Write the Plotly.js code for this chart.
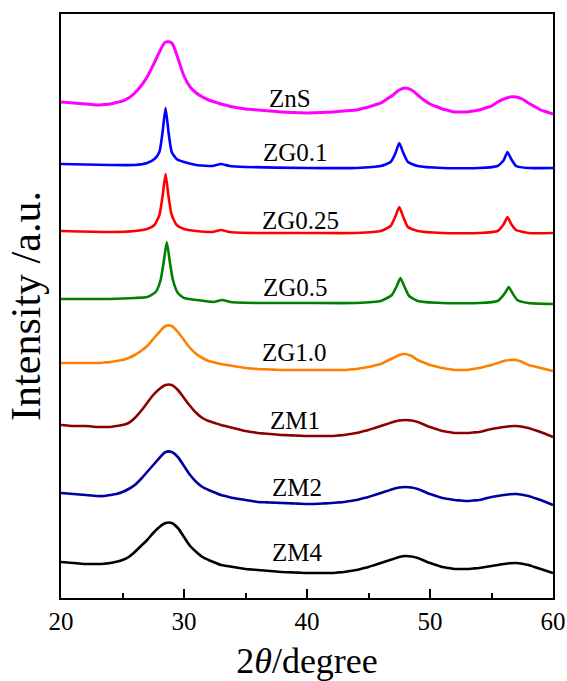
<!DOCTYPE html>
<html>
<head>
<meta charset="utf-8">
<script src="https://cdn.plot.ly/plotly-3.0.1.min.js"></script>
<style>html,body{margin:0;padding:0;background:#fff;}#chart{width:567px;height:681px;}</style>
</head>
<body>
<div id="chart"></div>
<script>
// Stacked XRD patterns (intensity in arbitrary units, offset stacks)
const xTickVals = [20, 30, 40, 50, 60];

// common 2-theta grid for the broad patterns
const gridX = [
  20,20.5,21,21.5,22,22.5,23,23.5,24,24.5,
  25,25.5,26,26.5,27,27.5,28,28.5,29,29.5,
  30,30.5,31,31.5,32,32.5,33,33.5,34,34.5,
  35,35.5,36,36.5,37,37.5,38,38.5,39,39.5,
  40,40.5,41,41.5,42,42.5,43,43.5,44,44.5,
  45,45.5,46,46.5,47,47.5,48,48.5,49,49.5,
  50,50.5,51,51.5,52,52.5,53,53.5,54,54.5,
  55,55.5,56,56.5,57,57.5,58,58.5,59,59.5,
  60];

const znsY = [
  496,495.5,495,494.5,494,493.5,493,493.5,494,495.5,
  497,500,505,512,521,533,546,556,555,540,
  522,511,505,501,498,496,494,492.5,491,490,
  489,488.5,488,487.5,487,486.5,486,485.7,485.5,485.2,
  485,485.2,485.5,485.7,486,486.5,487,487.5,488,489.5,
  491,493,495,499,503,508,510,508,503,498,
  494,491.5,489,487.5,486,486,486,487,488,490,
  492,496,499,501,501,499,495,491.5,488,486,
  484];

const zg01X = [20,24,26,27,27.6,28.0,28.25,28.5,28.75,29.0,29.4,30,31,32.3,33,33.7,35,40,44,46,46.8,47.2,47.5,47.8,48.2,49,51,54,55.5,56,56.3,56.6,57,58,60];
const zg01Y = [434,433,433,435,439,446,465,490,465,446,439,436,433,432,434,432,431,430,430,432,436,445,455,446,436,432,430,430,432,438,446,439,432,430,430];

const zg025X = [20,24,26,27,27.6,28.0,28.25,28.5,28.75,29.0,29.4,30,31,32.3,33,33.7,36,40,44,46,46.8,47.2,47.5,47.8,48.2,49,51,54,55.5,56,56.3,56.6,57,58,60];
const zg025Y = [367,366,367,369,373,383,401,424,401,383,373,369,367,366,368,366,365,365,365,367,372,382,391,382,371,367,365,365,367,374,381,374,368,365,365];

const zg05X = [20,24,26,27,27.7,28.1,28.35,28.6,28.85,29.1,29.5,30,31,32.4,33.1,33.8,36,40,44,46,46.9,47.3,47.6,47.9,48.3,49,51,54,55.5,56.1,56.4,56.7,57.1,58,60];
const zg05Y = [299,299,300,301,306,318,336,356,336,318,305,300,298,296,298,296,295,295,295,297,303,312,320,312,302,297,295,295,297,305,311,305,298,295,294];

const zg10Y = [
  235,235,235,235,235,235,235,235.5,236,237,
  238,240,243,247,252,259,266,272,272,266,
  258,250,244,240,237,235.5,234,233,232,231,
  230,229.5,229,228.7,228.5,228.2,228,228,228,228,
  228,228,228,228,228,228,228,228.5,229,230,
  231,232.5,234,237,240,243,244,242,238,235.5,
  233,231.5,230,229,228,228,228,229,230,231.5,
  233,235,237,238,238,236,233,231.5,230,228.5,
  227];

const zm1Y = [
  173,172.5,172,172,172,171.5,171,171,171,172,
  173,175,180,187,195,203,209,213,213,208,
  200,192,185,180,177,175,173,171.5,170,168.5,
  167,166,165,164.5,164,163.5,163,162.8,162.5,162.2,
  162,162,162,162,162,162.5,163,164,165,166.5,
  168,170,172,174,176,177.5,178,177.5,176,173.5,
  171,169,167,166,165,165,165,165.5,166,167.5,
  169,170,171,171.8,172,171.2,170,168,166,163.5,
  161];

const zm2Y = [
  105,104.5,104,103.5,103,102.5,102,102,103,104,
  106,109,113,119,126,133,140,146,146,141,
  132,123,116,111,108,105.5,103,101.5,100,99,
  98,97,96,95.7,95.5,95.2,95,94.7,94.5,94.2,
  94,94,94.3,94.6,95,95.5,96,97,98,99.5,
  101,103,105,107,109,110.5,111,110.5,109,106.5,
  104,102,100,99,98,97.5,97,97.5,98,99.5,
  101,102,103,103.8,104,103.2,102,100,98,95.5,
  93];

const zm4Y = [
  36,35.5,35,34.5,34,34,34,34.3,35,36.3,
  38,41,46,52,58,65,71,75,75,70,
  61,52,46,41,38,35.5,33,32,31,30,
  29,28.5,28,27.5,27,26.5,26,25.7,25.5,25.2,
  25,25,25,25,25,25.5,26,27,28,29.5,
  31,33,35,37,39,41,42,41.5,40,37.5,
  35,33,31,30,29,29,29,29.5,30,31,
  32,33,34,34.8,35,34.2,33,31,29,27,
  25];

const names = ["ZnS","ZG0.1","ZG0.25","ZG0.5","ZG1.0","ZM1","ZM2","ZM4"];
const colors = ["#FF00FF","#0000FF","#FF0000","#008000","#FF8000","#8B0000","#0000A0","#000000"];
const seriesX = [gridX, zg01X, zg025X, zg05X, gridX, gridX, gridX, gridX];
const seriesY = [znsY, zg01Y, zg025Y, zg05Y, zg10Y, zm1Y, zm2Y, zm4Y];
const sharp = [false, true, true, true, false, false, false, false];
const labelX = [38.6, 39.1, 39.5, 39.1, 39.0, 39.0, 39.2, 39.2];
const labelY = [500, 446, 378, 311, 246, 178, 111, 46];

const SERIF = 'Liberation Serif';

const traces = names.map((n, i) => ({
  x: seriesX[i], y: seriesY[i], type: 'scatter', mode: 'lines', name: n,
  line: {color: colors[i], width: i === 0 ? 3 : 2.6, shape: 'spline', smoothing: sharp[i] ? 0.5 : 0.8},
  hoverinfo: 'skip'
}));

const annotations = names.map((n, i) => ({
  x: labelX[i], y: labelY[i], xref: 'x', yref: 'y', text: n, showarrow: false,
  xanchor: 'center', yanchor: 'middle',
  font: {family: SERIF, size: 25, color: '#000'}
}));

const layout = {
  width: 567, height: 681,
  margin: {l: 61, r: 14, t: 14, b: 83},
  paper_bgcolor: '#fff', plot_bgcolor: '#fff',
  showlegend: false,
  font: {family: SERIF, color: '#000'},
  xaxis: {
    range: [20, 60], tickvals: xTickVals, ticktext: xTickVals.map(String),
    ticks: 'inside', ticklen: 9, tickwidth: 2, tickcolor: '#000',
    minor: {dtick: 5, tick0: 20, ticks: 'inside', ticklen: 5, tickwidth: 2, tickcolor: '#000'},
    showline: true, linewidth: 2, linecolor: '#000', mirror: true,
    showgrid: false, zeroline: false,
    tickfont: {size: 25, family: SERIF, color: '#000'},
    title: {text: '2<i>θ</i>/degree', font: {size: 36, family: SERIF, color: '#000'}, standoff: 14}
  },
  xaxis2: {
    range: [20, 60], overlaying: 'x', side: 'top', dtick: 5, tick0: 20,
    ticks: 'inside', ticklen: 3, tickwidth: 1, tickcolor: '#aaa',
    showticklabels: false, showline: false, showgrid: false, zeroline: false
  },
  yaxis: {
    range: [0, 584], showticklabels: false, ticks: '',
    showline: true, linewidth: 2, linecolor: '#000', mirror: true,
    showgrid: false, zeroline: false,
    title: {text: 'Intensity /a.u.', font: {size: 42, family: SERIF, color: '#000'}, standoff: 5}
  },
  annotations: annotations
};

Plotly.newPlot('chart', traces, layout, {staticPlot: true, displayModeBar: false});
</script>
</body>
</html>
